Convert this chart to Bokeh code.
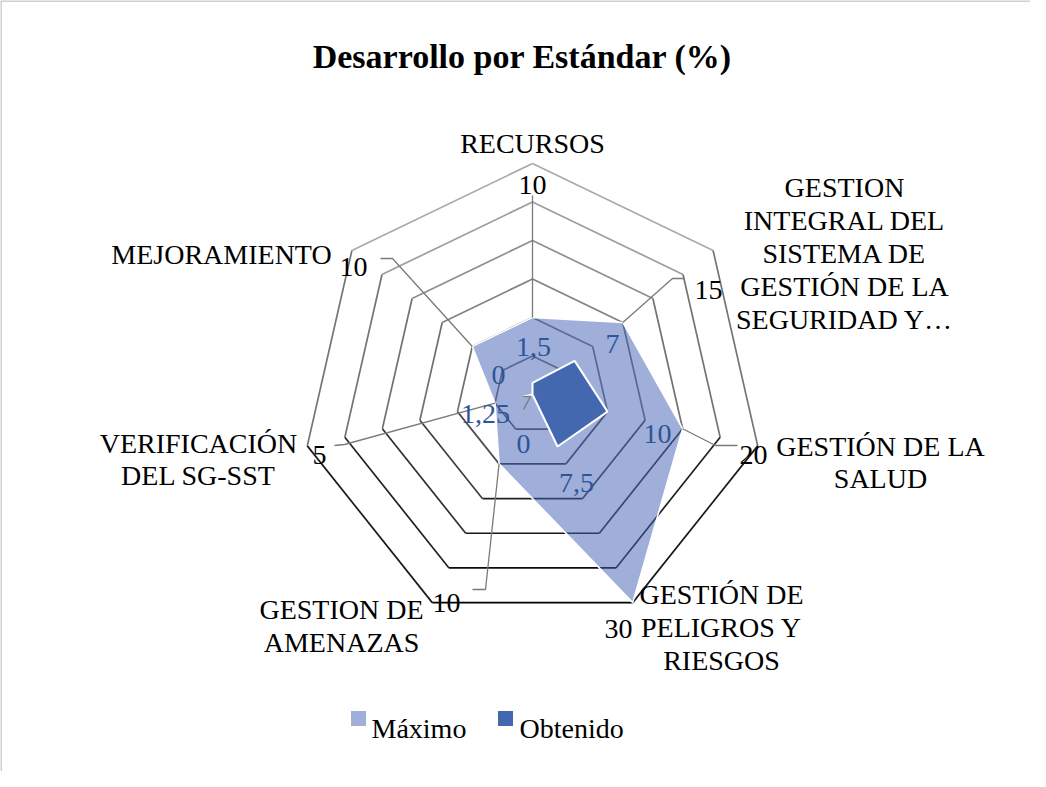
import numpy as np
from bokeh.plotting import figure
from bokeh.models import Range1d
from bokeh.embed import file_html
from bokeh.resources import INLINE
from bokeh.core.properties import value

# ---------------- data ----------------
title = "Desarrollo por Estándar (%)"
categories = [
    ["RECURSOS"],
    ["GESTION", "INTEGRAL DEL", "SISTEMA DE", "GESTIÓN DE LA", "SEGURIDAD Y…"],
    ["GESTIÓN DE LA", "SALUD"],
    ["GESTIÓN DE", "PELIGROS Y", "RIESGOS"],
    ["GESTION DE", "AMENAZAS"],
    ["VERIFICACIÓN", "DEL SG-SST"],
    ["MEJORAMIENTO"],
]
maximo = [10, 15, 20, 30, 10, 5, 10]
obtenido = [1.5, 7, 10, 7.5, 0, 1.25, 0]
maximo_labels = ["10", "15", "20", "30", "10", "5", "10"]
obtenido_labels = ["1,5", "7", "10", "7,5", "0", "1,25", "0"]
ring_ticks = [5, 10, 15, 20, 25, 30]
series_names = ["Máximo", "Obtenido"]

# ---------------- layout ----------------
W, H = 1030, 771
CX, CY, S = 540.0, 402.0, 7.7          # radar centre (page px) and px per unit
N = len(maximo)
FONT = value("Liberation Serif")
FS = "28px"
BASE = 9.5  # cap-centre -> baseline offset

MAX_C = "#3F5FB5"
OBT_C = "#4468B0"
LAB_BLUE = "#2E5597"
LEADER = "#7a7a7a"

cat_pos = [(540, 141, 32), (852, 185, 33), (888, 444, 32), (729, 592, 33),
           (349, 607, 33), (206, 441, 32), (229, 252, 32)]
max_lab_pos = [(540, 183), (716, 288), (761, 453), (626, 627), (454, 601), (327, 453), (361, 265)]
max_leaders = [[(540, 203)], [(692, 286), (680, 286)], [(745, 453), (723, 453)], [],
               [(480, 597), (493, 597)], [(342, 453), (352, 452)], [(388, 266), (400, 266)]]
obt_lab_pos = [(541, 345), (620, 342), (665, 432), (584, 481), (531, 442), (493, 412), (506, 373)]
obt_leaders = [[], [], [], [], [], [(531, 417), (538, 404)], []]


def polar(v, k):
    th = 2 * np.pi * k / N
    return CX + v * S * np.sin(th), CY - v * S * np.cos(th)


p = figure(width=W, height=H, x_range=Range1d(8, 8 + W), y_range=Range1d(8 + H, 8),
           output_backend="svg", toolbar_location=None, min_border=0)
p.axis.visible = False
p.xgrid.visible = False
p.ygrid.visible = False
p.outline_line_color = None
p.background_fill_color = "white"

# chart area border (top & left visible)
p.segment([8, 8.5], [8.5, 8], [8 + W, 8.5], [8.5, 8 + H], line_color="#d0d0d0", line_width=2)

# rings with vertical gradient colour
x0s, y0s, x1s, y1s, cols = [], [], [], [], []
for t in ring_ticks:
    for k in range(N):
        xa, ya = polar(t, k)
        xb, yb = polar(t, (k + 1) % N)
        ym = (ya + yb) / 2
        g = int(np.interp(ym, [171, 330, 400, 506, 612], [190, 120, 110, 35, 0]))
        x0s.append(xa); y0s.append(ya); x1s.append(xb); y1s.append(yb)
        cols.append("#%02x%02x%02x" % (g, g, g))
p.segment(x0s, y0s, x1s, y1s, line_color=cols, line_width=1.7)

# series polygons
mx, my = zip(*[polar(v, k) for k, v in enumerate(maximo)])
p.patch(list(mx), list(my), fill_color=MAX_C, fill_alpha=0.5, line_color="white", line_width=1.5)
ox, oy = zip(*[polar(v, k) for k, v in enumerate(obtenido)])
p.patch(list(ox), list(oy), fill_color=OBT_C, line_color="white", line_width=2)

# leader lines
for k in range(N):
    if max_leaders[k]:
        pts = max_leaders[k] + [polar(maximo[k], k)]
        p.line([q[0] for q in pts], [q[1] for q in pts], line_color=LEADER, line_width=1.3)
    if obt_leaders[k]:
        pts = obt_leaders[k] + [polar(obtenido[k], k)]
        p.line([q[0] for q in pts], [q[1] for q in pts], line_color=LEADER, line_width=1.3)

# data labels
p.text([q[0] for q in max_lab_pos], [q[1] + BASE for q in max_lab_pos], text=maximo_labels,
       text_font=FONT, text_font_size=FS, text_color="black",
       text_align="center", text_baseline="alphabetic")
p.text([q[0] for q in obt_lab_pos], [q[1] + BASE for q in obt_lab_pos], text=obtenido_labels,
       text_font=FONT, text_font_size=FS, text_color=LAB_BLUE,
       text_align="center", text_baseline="alphabetic")

# category labels
tx, ty, tt = [], [], []
for k, lines in enumerate(categories):
    cx, cy, sp = cat_pos[k]
    for i, ln in enumerate(lines):
        tx.append(cx); ty.append(cy + i * sp + BASE); tt.append(ln)
p.text(tx, ty, text=tt, text_font=FONT, text_font_size=FS, text_color="black",
       text_align="center", text_baseline="alphabetic")

# title
p.text([530], [52 + 12], text=[title], text_font=FONT, text_font_size="34px",
       text_font_style="bold", text_color="black", text_align="center", text_baseline="alphabetic")

# legend
p.scatter([366, 513], [726, 726], marker="square", size=15,
          fill_color=[MAX_C, OBT_C], fill_alpha=[0.5, 1.0], line_color=None)
p.text([379, 527], [726 + BASE, 726 + BASE], text=series_names, text_font=FONT, text_font_size="28px",
       text_color="black", text_align="left", text_baseline="alphabetic")

open("out.html", "w").write(file_html(p, INLINE))
